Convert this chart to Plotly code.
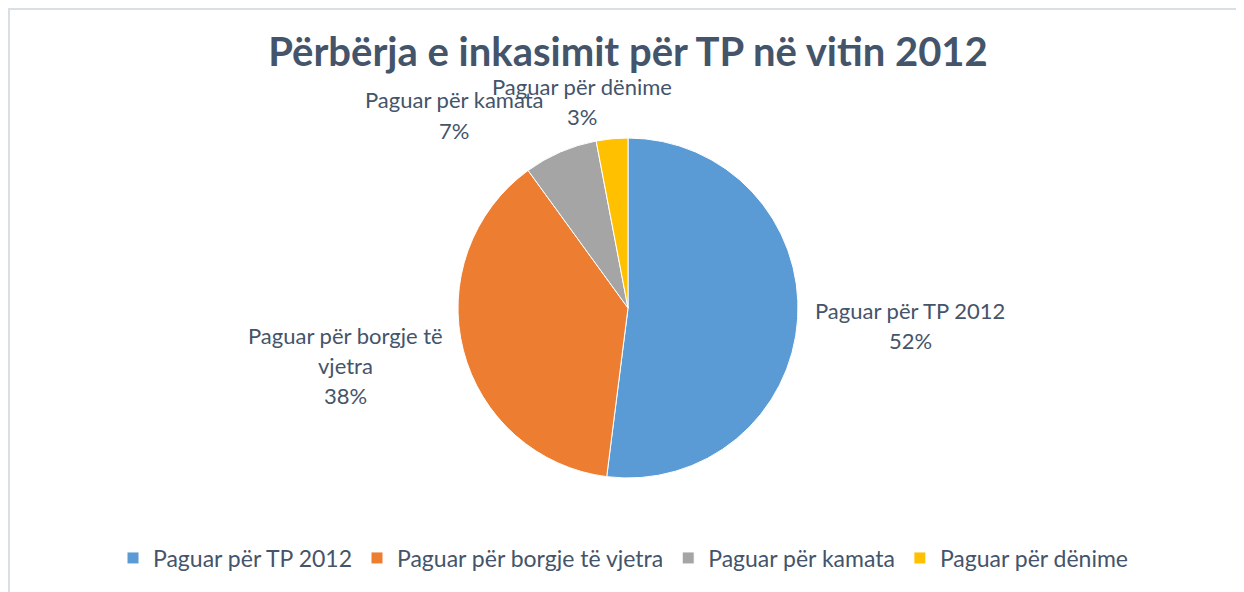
import plotly.graph_objects as go

W, H = 1244, 592
# the page body adds an 8px margin, so screen pixels are shifted by this much
OX, OY = 8, 8

categories = ["Paguar për TP 2012", "Paguar për borgje të vjetra",
              "Paguar për kamata", "Paguar për dënime"]
shares = [52, 38, 7, 3]
colors = ["#5B9BD5", "#ED7D31", "#A5A5A5", "#FFC000"]

# where the data labels sit (screen pixel centre of the block) and how they wrap
label_pos = [(910, 325), (345, 365), (454, 115), (582, 101)]
label_wrap = [None, "Paguar për borgje të", None, None]

TXT = "#44546A"
FONT = "Lato"


def px(x, y):
    return (x - OX) / W, 1 - (y - OY) / H


fig = go.Figure()

cx, cy, r = 628, 308, 170
x0, y1 = px(cx - r, cy - r)
x1, y0 = px(cx + r, cy + r)
fig.add_trace(go.Pie(
    labels=categories,
    values=shares,
    sort=False,
    direction="clockwise",
    rotation=0,
    marker=dict(colors=colors, line=dict(color="white", width=1)),
    textinfo="none",
    hoverinfo="label+percent",
    domain=dict(x=[x0, x1], y=[y0, y1]),
))

# data labels: category name + percent, one annotation per line
line_h = 30
for cat, val, (lx, ly), wrap in zip(categories, shares, label_pos, label_wrap):
    if wrap:
        lines = [wrap, cat[len(wrap):].strip()]
    else:
        lines = [cat]
    lines.append(f"{val}%")
    top = ly - line_h * (len(lines) - 1) / 2
    for i, t in enumerate(lines):
        x, y = px(lx, top + i * line_h)
        fig.add_annotation(x=x, y=y, xref="paper", yref="paper",
                           text=t, showarrow=False,
                           xanchor="center", yanchor="middle",
                           font=dict(family=FONT, size=22, color=TXT))

# chart area border (left/top visible, rest cropped)
fig.add_shape(type="rect", xref="paper", yref="paper",
              x0=1 / W, x1=1.02, y0=-0.02, y1=1 - 1 / H,
              line=dict(color="#D9DFE7", width=2), layer="below")

tx, ty = px(628, 52)
lgx, lgy = px(623, 558)
fig.update_layout(
    width=W, height=H,
    margin=dict(l=0, r=0, t=0, b=0),
    paper_bgcolor="white",
    plot_bgcolor="white",
    title=dict(text="<b>Përbërja e inkasimit për TP në vitin 2012</b>",
               x=tx, xanchor="center", y=ty, yanchor="middle",
               font=dict(family=FONT, size=40, color=TXT)),
    showlegend=True,
    legend=dict(orientation="h", x=lgx, xanchor="center",
                y=lgy, yanchor="middle",
                font=dict(family=FONT, size=23, color=TXT),
                traceorder="normal"),
)

fig.write_html("out.html")
